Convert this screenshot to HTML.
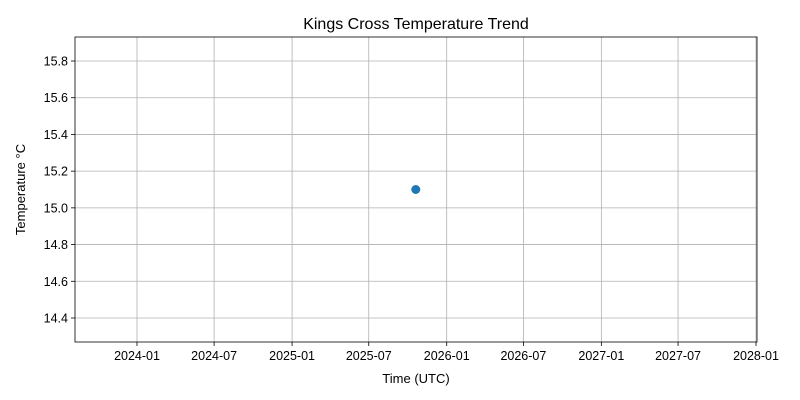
<!DOCTYPE html>
<html><head><meta charset="utf-8"><style>
body{margin:0;background:#fff;}
svg{display:block;font-family:"Liberation Sans","DejaVu Sans",sans-serif;}
</style></head><body>
<svg id="chart" width="800" height="400"></svg>
<script>
const dates = ["2025-10-20"];
const temps = [15.1];
const xTickLabels = ["2024-01","2024-07","2025-01","2025-07","2026-01","2026-07","2027-01","2027-07","2028-01"];
const yTickLabels = ["14.4","14.6","14.8","15.0","15.2","15.4","15.6","15.8"];

const L=75,R=757,T=37,B=342;
const d0=Date.UTC(2024,0,1), d1=Date.UTC(2028,0,1);
function xs(ms){return 137+(ms-d0)/(d1-d0)*(756-137);}
function ys(v){return 318-(v-14.4)/1.4*(318-61);}
function parse(s){const p=s.split('-').map(Number);return Date.UTC(p[0],p[1]-1,p[2]||1);}
const svg=document.getElementById('chart');
const NS='http://www.w3.org/2000/svg';
function mk(t,a){const e=document.createElementNS(NS,t);for(const k in a)e.setAttribute(k,a[k]);svg.appendChild(e);return e;}

xTickLabels.forEach(l=>{
  const x=xs(parse(l));
  const g=mk('line',{x1:x,x2:x,y1:T,y2:B,stroke:'#b0b0b0','stroke-width':0.8});
  
  
  mk('line',{x1:x,x2:x,y1:B,y2:B+4,stroke:'#000','stroke-width':0.8});
  const t=mk('text',{x:x,y:B+18,'text-anchor':'middle','font-size':12.5,fill:'#000'});
  t.textContent=l;
  
  
});
yTickLabels.forEach(l=>{
  const y=ys(parseFloat(l));
  const g=mk('line',{x1:L,x2:R,y1:y,y2:y,stroke:'#b0b0b0','stroke-width':0.8});
  
  
  mk('line',{x1:L-4,x2:L,y1:y,y2:y,stroke:'#000','stroke-width':0.8});
  const t=mk('text',{x:L-7,y:y+4.5,'text-anchor':'end','font-size':12.5,fill:'#000'});
  t.textContent=l;
  
  
});
const frame=mk('rect',{x:L,y:T,width:R-L,height:B-T,fill:'none',stroke:'#000','stroke-width':0.8});


dates.forEach((d,i)=>{
  const c=mk('circle',{cx:xs(parse(d)),cy:ys(temps[i]),r:4.5,fill:'#1f77b4'});
  
  
});
const title=mk('text',{x:(L+R)/2,y:29,'text-anchor':'middle','font-size':16,fill:'#000'});
title.textContent='Kings Cross Temperature Trend';


const xl=mk('text',{x:(L+R)/2,y:383,'text-anchor':'middle','font-size':13,fill:'#000'});
xl.textContent='Time (UTC)';


const yl=mk('text',{x:25,y:(T+B)/2,'text-anchor':'middle','font-size':13,fill:'#000',transform:'rotate(-90 25 '+((T+B)/2)+')'});
yl.textContent='Temperature °C';


</script>
</body></html>
